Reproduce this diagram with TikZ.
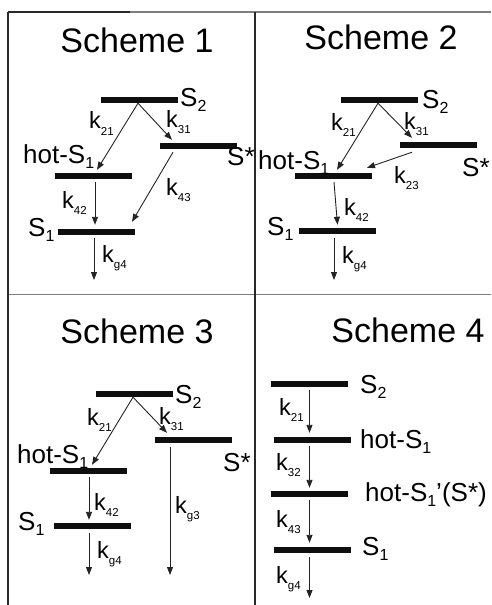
\documentclass[tikz,border=0pt]{standalone}
\usepackage{fontspec}
\setmainfont{Liberation Sans}
\usetikzlibrary{arrows.meta}
\definecolor{levelBlack}{RGB}{15,15,15}
\definecolor{frameGray}{RGB}{125,125,125}
\definecolor{frameDark}{RGB}{40,40,40}
\definecolor{arrowDark}{RGB}{35,35,35}

% rate constant k with a low subscript, level name with subscript
\newcommand{\krate}[1]{k\raisebox{-6.5pt}{\fontsize{11.5}{11.5}\selectfont #1}}
\newcommand{\lvl}[2]{#1\raisebox{-5pt}{\fontsize{16}{16}\selectfont #2}}

\begin{document}
\begin{tikzpicture}[x=1pt, y=-1pt, text=black]
	\useasboundingbox (0,0) rectangle (491,605);

	% frame of the four panels
	\draw [frameDark, line width=1.4pt] (8,12) -- (130,12);
	\draw [frameGray, line width=1.6pt] (130,12) -- (491,12);
	\draw [frameGray, line width=1.6pt] (8,294.5) -- (491,294.5);
	\draw [frameDark, line width=1.3pt] (8,12) -- (8,605);
	\draw [frameDark, line width=1.3pt] (255,12) -- (255,605);

	\begin{scope}[every node/.style={anchor=base, font=\fontsize{34}{40}\selectfont}]
		\node (title1) at (137,52) {Scheme 1};
		\node (title2) at (381,49) {Scheme 2};
		\node (title3) at (137,343) {Scheme 3};
		\node (title4) at (408,342) {Scheme 4};
	\end{scope}

	% energy levels
	\begin{scope}[every node/.style={fill=levelBlack, minimum width=77pt, minimum height=6pt, inner sep=0pt}]
		\node (S2a) at (139,100) {};
		\node (Sxa) at (198,145.7) {};
		\node (hota) at (93,175.7) {};
		\node (S1a) at (96.5,231.7) {};

		\node (S2b) at (379.5,100) {};
		\node (Sxb) at (438,145) {};
		\node (hotb) at (333.5,176) {};
		\node (S1b) at (337,231) {};

		\node (S2c) at (134.5,394) {};
		\node (Sxc) at (193,440) {};
		\node (hotc) at (88.5,471) {};
		\node (S1c) at (92,526) {};

		\node (S2d) at (309,384) {};
		\node (hotd) at (312.5,440) {};
		\node (hotpd) at (309,494) {};
		\node (S1d) at (312.5,550) {};
	\end{scope}

	% level names
	\begin{scope}[every node/.style={anchor=base west, inner sep=0pt, font=\fontsize{26}{30}\selectfont}]
		\node (nS2a) at (180,106) {\lvl{S}{2}};
		\node (nSxa) at (227,165) {S*};
		\node (nhota) at (23,163) {\lvl{hot-S}{1}};
		\node (nS1a) at (28,236) {\lvl{S}{1}};

		\node (nS2b) at (422,108) {\lvl{S}{2}};
		\node (nSxb) at (462,176) {S*};
		\node (nhotb) at (258,169) {\lvl{hot-S}{1}};
		\node (nS1b) at (267,235) {\lvl{S}{1}};

		\node (nS2c) at (175,403) {\lvl{S}{2}};
		\node (nSxc) at (223,471) {S*};
		\node (nhotc) at (17,463) {\lvl{hot-S}{1}};
		\node (nS1c) at (18,530) {\lvl{S}{1}};

		\node (nS2d) at (360,393) {\lvl{S}{2}};
		\node (nhotd) at (360,448) {\lvl{hot-S}{1}};
		\node (nhotpd) at (365,501) {\lvl{hot-S}{1}'(S*)};
		\node (nS1d) at (362,555) {\lvl{S}{1}};
	\end{scope}

	% rate constants
	\begin{scope}[every node/.style={anchor=base west, inner sep=0pt, font=\fontsize{23.5}{27}\selectfont}]
		\node (k21a) at (89,128.5) {\krate{21}};
		\node (k31a) at (166,127) {\krate{31}};
		\node (k43a) at (166,195) {\krate{43}};
		\node (k42a) at (62,208) {\krate{42}};
		\node (kg4a) at (102,262) {\krate{g4}};

		\node (k21b) at (331,130) {\krate{21}};
		\node (k31b) at (404,129) {\krate{31}};
		\node (k23b) at (394,183) {\krate{23}};
		\node (k42b) at (344,215) {\krate{42}};
		\node (kg4b) at (342,263) {\krate{g4}};

		\node (k21c) at (87,425) {\krate{21}};
		\node (k31c) at (159,424) {\krate{31}};
		\node (kg3c) at (175,513) {\krate{g3}};
		\node (k42c) at (94,510) {\krate{42}};
		\node (kg4c) at (97,558) {\krate{g4}};

		\node (k21d) at (279,415) {\krate{21}};
		\node (k32d) at (276,470) {\krate{32}};
		\node (k43d) at (276,527) {\krate{43}};
		\node (kg4d) at (276,583) {\krate{g4}};
	\end{scope}

	% ground-state decay ends
	\coordinate (enda) at (94,280);
	\coordinate (endb) at (334,280);
	\coordinate (endc3) at (170,575);
	\coordinate (endc4) at (89,575);
	\coordinate (endd) at (309.5,598);

	\begin{scope}[every edge/.style={draw=arrowDark, line width=0.9pt, -{Triangle[length=8pt,width=6pt]}}]
		\path ([xshift=-1pt]S2a.south) edge ([xshift=4pt,yshift=2.7pt]hota.north);
		\path ([xshift=-1pt]S2a.south) edge ([xshift=-26pt,yshift=2.7pt]Sxa.north);
		\path ([xshift=-25pt,yshift=-3.3pt]Sxa.south) edge ([xshift=35.5pt,yshift=6.7pt]S1a.north);
		\path ([xshift=2pt,yshift=-3.3pt]hota.south) edge ([xshift=-1.5pt,yshift=3.7pt]S1a.north);
		\path ([xshift=-2.5pt,yshift=-3.3pt]S1a.south) edge (enda);

		\path ([xshift=-1.5pt]S2b.south) edge ([xshift=3.5pt,yshift=3pt]hotb.north);
		\path ([xshift=-1.5pt]S2b.south) edge ([xshift=-26pt,yshift=4pt]Sxb.north);
		\path ([xshift=-26pt,yshift=-4pt]Sxb.south) edge ([xshift=33.5pt,yshift=5pt]hotb.north);
		\path ([xshift=0.5pt,yshift=-3pt]hotb.south) edge ([xshift=0.5pt,yshift=3pt]S1b.north);
		\path ([xshift=-3pt,yshift=-4pt]S1b.south) edge (endb);

		\path ([xshift=-1.5pt]S2c.south) edge ([xshift=3.5pt,yshift=3pt]hotc.north);
		\path ([xshift=-1.5pt]S2c.south) edge ([xshift=-26pt,yshift=4pt]Sxc.north);
		\path ([xshift=-23pt,yshift=-4pt]Sxc.south) edge (endc3);
		\path ([xshift=0.5pt,yshift=-3pt]hotc.south) edge ([xshift=-3pt,yshift=3pt]S1c.north);
		\path ([xshift=-3pt,yshift=-4pt]S1c.south) edge (endc4);

		\path ([xshift=0.5pt,yshift=-3pt]S2d.south) edge ([xshift=-3pt,yshift=4pt]hotd.north);
		\path ([xshift=-3pt,yshift=-3pt]hotd.south) edge ([xshift=0.5pt,yshift=3pt]hotpd.north);
		\path ([xshift=0.5pt,yshift=-3pt]hotpd.south) edge ([xshift=-3pt,yshift=4pt]S1d.north);
		\path ([xshift=-3pt,yshift=-4pt]S1d.south) edge (endd);
	\end{scope}
\end{tikzpicture}
\end{document}
